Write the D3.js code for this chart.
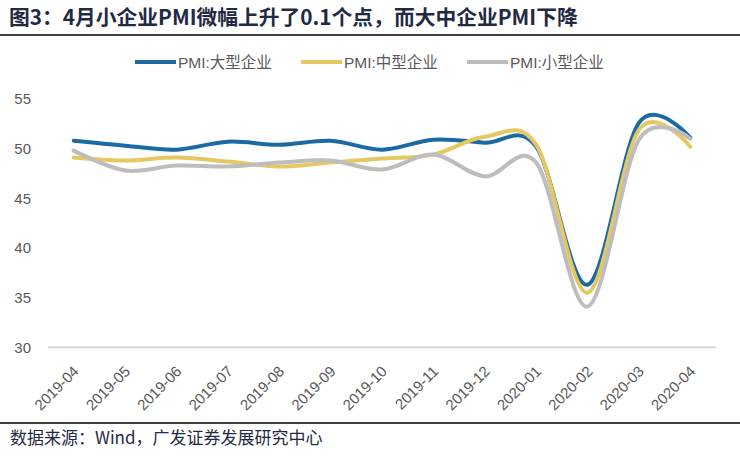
<!DOCTYPE html>
<html>
<head>
<meta charset="utf-8">
<script src="https://cdn.jsdelivr.net/npm/d3@7"></script>
<style>
  html, body { margin: 0; padding: 0; background: #fff; }
  text { font-family: "Liberation Sans", Arial, "Noto Sans CJK SC", sans-serif; }
</style>
</head>
<body>
<div id="chart"></div>
<script>
const width = 740, height = 460;

// data
const months = ["2019-04", "2019-05", "2019-06", "2019-07", "2019-08", "2019-09", "2019-10",
                "2019-11", "2019-12", "2020-01", "2020-02", "2020-03", "2020-04"];
const large  = [50.8, 50.3, 49.9, 50.7, 50.4, 50.8, 49.9, 50.9, 50.6, 50.2, 36.3, 52.6, 51.1];
const medium = [49.1, 48.8, 49.1, 48.7, 48.2, 48.6, 49.0, 49.4, 51.2, 50.4, 35.5, 51.9, 50.2];
const small  = [49.8, 47.8, 48.3, 48.2, 48.6, 48.8, 47.9, 49.4, 47.2, 48.6, 34.1, 50.9, 51.0];
const seriesNames = ["PMI:大型企业", "PMI:中型企业", "PMI:小型企业"];
const yTicks = [30, 35, 40, 45, 50, 55];

const colors = ["#1c6aa4", "#e6c862", "#bdbdbd"];
const navy = "#1f2a44", grey = "#595959";

const svg = d3.select("#chart").append("svg")
    .attr("width", width).attr("height", height);

// Title + rule
const title = svg.append("text")
    .attr("x", 9).attr("y", 25)
    .style("font-family", "'Noto Sans CJK SC', sans-serif")
    .style("font-weight", "bold")
    .style("font-size", "20px")
    .attr("fill", navy)
    .text("图3：4月小企业PMI微幅上升了0.1个点，而大中企业PMI下降");
// fit title to the reference width
const tw = title.node().getComputedTextLength();
title.style("font-size", (20 * 569 / tw).toFixed(2) + "px");

svg.append("line").attr("x1", 0).attr("x2", width).attr("y1", 35).attr("y2", 35)
    .attr("stroke", "#000").attr("stroke-width", 1.5);

// Scales
const x = d3.scaleBand().domain(months).range([48, 716]);
const cx = d => x(d) + x.bandwidth() / 2;
const y = d3.scaleLinear().domain([30, 55]).range([347.3, 99]);

// baseline gridline at 30
svg.append("line")
    .attr("x1", 48).attr("x2", 716)
    .attr("y1", y(30)).attr("y2", y(30))
    .attr("stroke", "#d9d9d9").attr("stroke-width", 2);

// Y axis labels
const yAxis = svg.append("g")
    .attr("transform", "translate(31,0)")
    .call(d3.axisLeft(y).tickValues(yTicks).tickSize(0).tickPadding(0));
yAxis.select(".domain").remove();
yAxis.selectAll("text")
    .attr("fill", grey)
    .style("font-size", "15px");

// X axis labels
const xAxis = svg.append("g")
    .attr("transform", "translate(0," + y(30) + ")")
    .call(d3.axisBottom(x).tickSize(0));
xAxis.select(".domain").remove();
xAxis.selectAll("text")
    .attr("fill", grey)
    .style("font-size", "15px")
    .attr("text-anchor", "end")
    .attr("dy", null)
    .attr("y", 0)
    .attr("transform", "translate(6,25) rotate(-45)");

// Lines
const line = d3.line()
    .x((d, i) => cx(months[i]))
    .y(d => y(d))
    .curve(d3.curveCardinal.tension(0));

[large, medium, small].forEach((vals, i) => {
    svg.append("path")
        .datum(vals)
        .attr("fill", "none")
        .attr("stroke", colors[i])
        .attr("stroke-width", 4)
        .attr("stroke-linecap", "round")
        .attr("d", line);
});

// Legend
const legendX = [135, 301, 467];
seriesNames.forEach((name, i) => {
    const g = svg.append("g").attr("transform", `translate(${legendX[i]},62)`);
    g.append("line").attr("x1", 0).attr("x2", 41).attr("y1", 0).attr("y2", 0)
        .attr("stroke", colors[i]).attr("stroke-width", 4);
    g.append("text")
        .attr("x", 43).attr("y", 0).attr("dy", "0.36em")
        .attr("fill", grey)
        .style("font-size", "15.5px")
        .text(name);
});

// Footer
svg.append("line").attr("x1", 0).attr("x2", width).attr("y1", 423).attr("y2", 423)
    .attr("stroke", "#000").attr("stroke-width", 1.5);
svg.append("text")
    .attr("x", 10).attr("y", 444)
    .style("font-family", "'Noto Sans CJK SC', sans-serif")
    .style("font-size", "17px")
    .attr("fill", navy)
    .text("数据来源：Wind，广发证券发展研究中心");
</script>
</body>
</html>
